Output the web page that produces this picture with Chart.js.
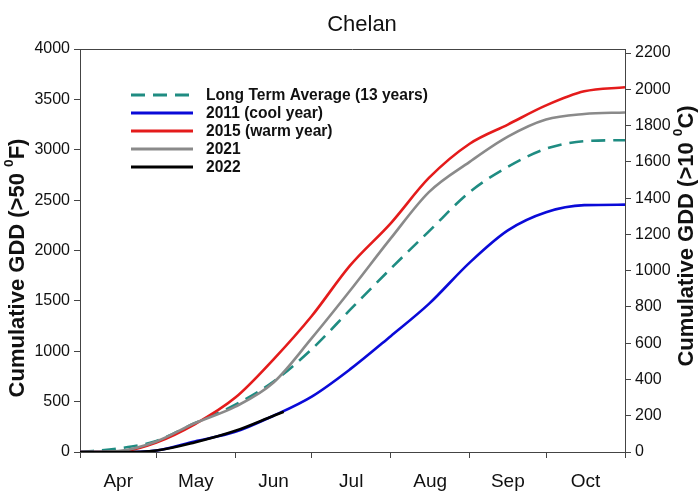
<!DOCTYPE html>
<html>
<head>
<meta charset="utf-8">
<script src="https://cdn.jsdelivr.net/npm/chart.js@4.4.0/dist/chart.umd.min.js"></script>
<style>
    html, body { margin: 0; padding: 0; background: #fff; }
    #wrap { width: 700px; height: 497px; position: relative; }
</style>
</head>
<body>
<div id="wrap"><canvas id="chart"></canvas></div>
<script>
// day 0 = Apr 1, day 214 = Oct 31
var days = [0, 15, 30, 45, 61, 76, 91, 106, 122, 137, 153, 168, 183, 198, 214];
var longTermAvg = [0, 35, 110, 285, 470, 700, 1020, 1410, 1820, 2190, 2580, 2830, 3010, 3085, 3095];
var gdd2011 = [0, 0, 15, 105, 200, 360, 550, 820, 1150, 1470, 1880, 2200, 2380, 2450, 2455];
var gdd2015 = [0, 3, 95, 275, 540, 920, 1350, 1850, 2270, 2720, 3060, 3250, 3440, 3580, 3620];
var gdd2021 = [0, 10, 105, 285, 450, 690, 1130, 1600, 2120, 2580, 2880, 3130, 3300, 3355, 3370];
var days2022 = [0, 15, 30, 45, 61, 76, 80];
var gdd2022 = [0, 0, 15, 95, 210, 360, 400];

var monthNames = ["Apr", "May", "Jun", "Jul", "Aug", "Sep", "Oct"];
var monthStarts = [0, 30, 61, 91, 122, 153, 183, 214];
var leftTicks = [0, 500, 1000, 1500, 2000, 2500, 3000, 3500, 4000];
var rightTicks = [0, 200, 400, 600, 800, 1000, 1200, 1400, 1600, 1800, 2000, 2200];

var FONT = "'Liberation Sans', Arial, sans-serif";

function points(xs, ys) {
    return xs.map(function (x, i) {
        return { x: x, y: ys[i] };
    });
}

// boundaries carry tick marks, mid-month values carry the labels
var xTicks = [];
monthStarts.forEach(function (d, i) {
    xTicks.push(d);
    if (i < monthNames.length) xTicks.push((d + monthStarts[i + 1]) / 2);
});

var data = {
    datasets: [
        {
            label: "Long Term Average (13 years)",
            data: points(days, longTermAvg),
            borderColor: "#1f8c82",
            borderDash: [14, 8],
            order: 4,
        },
        {
            label: "2011 (cool year)",
            data: points(days, gdd2011),
            borderColor: "#0a0ad8",
            order: 3,
        },
        {
            label: "2015 (warm year)",
            data: points(days, gdd2015),
            borderColor: "#e41b1b",
            order: 2,
        },
        {
            label: "2021",
            data: points(days, gdd2021),
            borderColor: "#8a8a8a",
            order: 1,
        },
        {
            label: "2022",
            data: points(days2022, gdd2022),
            borderColor: "#000000",
            order: 0,
        },
    ],
};

function drawSupText(ctx, parts, cx, cy, size) {
    // parts: [text, isSup]
    var total = 0;
    parts.forEach(function (p) {
        ctx.font = "bold " + (p[1] ? size * 0.62 : size) + "px " + FONT;
        total += ctx.measureText(p[0]).width;
    });
    var x = cx - total / 2;
    parts.forEach(function (p) {
        ctx.font = "bold " + (p[1] ? size * 0.62 : size) + "px " + FONT;
        ctx.fillText(p[0], x, p[1] ? cy - size * 0.38 : cy);
        x += ctx.measureText(p[0]).width;
    });
}

var decor = {
    id: "decor",
    afterDraw: function (chart) {
        var ctx = chart.ctx;
        var a = chart.chartArea;
        ctx.save();
        // top frame line
        ctx.strokeStyle = "#444";
        ctx.lineWidth = 1;
        ctx.beginPath();
        ctx.moveTo(a.left, a.top + 0.5);
        ctx.lineTo(a.right, a.top + 0.5);
        ctx.stroke();

        ctx.fillStyle = "#111";
        ctx.textBaseline = "middle";
        ctx.textAlign = "center";
        ctx.font = "22px " + FONT;
        ctx.fillText("Chelan", 362, 25);

        ctx.textAlign = "left";
        ctx.save();
        ctx.translate(18, 268);
        ctx.rotate(-Math.PI / 2);
        drawSupText(ctx, [["Cumulative GDD (>50 ", false], ["0", true], ["F)", false]], 0, 0, 22);
        ctx.restore();

        ctx.save();
        ctx.translate(687, 236);
        ctx.rotate(-Math.PI / 2);
        drawSupText(ctx, [["Cumulative GDD (>10 ", false], ["0", true], ["C)", false]], 0, 0, 22);
        ctx.restore();

        // legend inside plot
        chart.data.datasets.forEach(function (ds, i) {
            var y = 95 + i * 18;
            ctx.strokeStyle = ds.borderColor;
            ctx.lineWidth = 3;
            ctx.setLineDash(ds.borderDash || []);
            ctx.beginPath();
            ctx.moveTo(131, y);
            ctx.lineTo(193, y);
            ctx.stroke();
            ctx.setLineDash([]);
            ctx.fillStyle = "#111";
            ctx.font = "bold 15.6px " + FONT;
            ctx.fillText(ds.label, 206, y + 1);
        });
        ctx.restore();
    },
};

function plain(v) {
    return String(v);
}

var options = {
    responsive: true,
    maintainAspectRatio: false,
    animation: false,
    layout: { padding: { top: 49, left: 0, right: 0, bottom: 0 } },
    elements: {
        line: { borderWidth: 2.6, cubicInterpolationMode: "monotone" },
        point: { radius: 0 },
    },
    plugins: {
        legend: { display: false },
        tooltip: { enabled: false },
    },
    scales: {
        x: {
            type: "linear",
            position: "bottom",
            min: 0,
            max: 214,
            afterBuildTicks: function (s) {
                s.ticks = xTicks.map(function (v) { return { value: v }; });
            },
            afterFit: function (s) { s.height = 45; },
            ticks: {
                autoSkip: false,
                maxRotation: 0,
                padding: 12,
                color: "#111",
                font: { size: 19, family: FONT },
                callback: function (v, i) {
                    return i % 2 ? monthNames[(i - 1) / 2] : "";
                },
            },
            grid: {
                drawOnChartArea: false,
                tickLength: 6,
                tickColor: function (c) {
                    return c.index % 2 === 0 ? "#444" : "rgba(0,0,0,0)";
                },
            },
            border: { color: "#444", width: 1 },
        },
        y: {
            position: "left",
            min: 0,
            max: 4000,
            afterBuildTicks: function (s) {
                s.ticks = leftTicks.map(function (v) { return { value: v }; });
            },
            afterFit: function (s) { s.width = 80; },
            ticks: {
                padding: 4,
                color: "#111",
                font: { size: 16, family: FONT },
                callback: plain,
            },
            grid: { drawOnChartArea: false, tickLength: 6, tickColor: "#444" },
            border: { color: "#444", width: 1 },
        },
        y2: {
            display: true,
            position: "right",
            min: 0,
            max: 4000 / 1.8,
            afterBuildTicks: function (s) {
                s.ticks = rightTicks.map(function (v) { return { value: v }; });
            },
            afterFit: function (s) { s.width = 75; },
            ticks: {
                padding: 4,
                color: "#111",
                font: { size: 16, family: FONT },
                callback: plain,
            },
            grid: { drawOnChartArea: false, tickLength: 6, tickColor: "#444" },
            border: { color: "#444", width: 1 },
        },
    },
};

new Chart("chart", {
    type: "line",
    data: data,
    options: options,
    plugins: [decor],
});
</script>
</body>
</html>
